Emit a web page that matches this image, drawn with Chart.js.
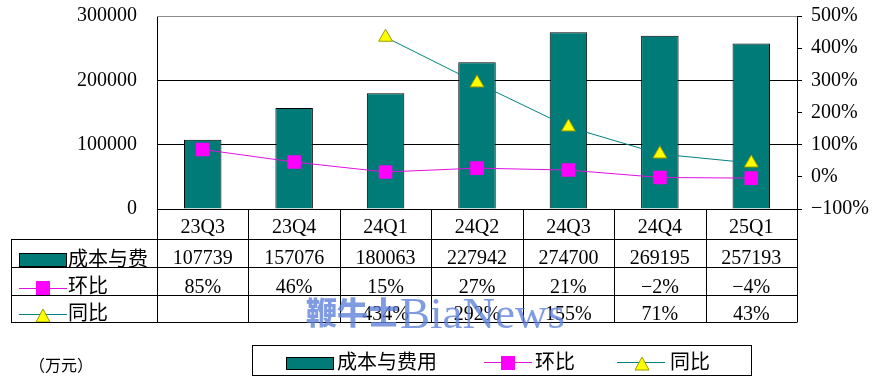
<!DOCTYPE html>
<html>
<head>
<meta charset="utf-8">
<script src="https://cdn.jsdelivr.net/npm/chart.js@4/dist/chart.umd.min.js"></script>
<style>
  html, body { margin: 0; padding: 0; background: #fff; }
  canvas { display: block; }
</style>
</head>
<body>
<canvas id="chart" width="876" height="392"></canvas>
<script>
// data
const categories = ['23Q3', '23Q4', '24Q1', '24Q2', '24Q3', '24Q4', '25Q1'];
const costs = [107739, 157076, 180063, 227942, 274700, 269195, 257193];
const qoq = [85, 46, 15, 27, 21, -2, -4];
const yoy = [null, null, 434, 292, 155, 71, 43];
const seriesNames = ['成本与费用', '环比', '同比'];
const rowNames = ['成本与费', '环比', '同比'];
const unitLabel = '（万元）';
const watermark = ['鞭牛士', 'BiaNews'];

const TEAL = '#007B77';
const MAGENTA = '#FF00FF';
const MAGENTA_LINE = '#E010E0';
const CYAN_LINE = '#008080';
const YELLOW = '#FFFF00';

const NUM_FONT = '20px "Liberation Serif", serif';
const CJK_FONT = '20px "Noto Sans CJK SC", sans-serif';

Chart.defaults.font.family = '"Liberation Serif", serif';
Chart.defaults.font.size = 20;
Chart.defaults.color = '#000';

function pct(v) {
  if (v === null || v === undefined) return '';
  return (v < 0 ? '\u2212' + (-v) : String(v)) + '%';
}

function px(v) { return Math.round(v) + 0.5; }

function line(ctx, x1, y1, x2, y2) {
  ctx.beginPath();
  ctx.moveTo(x1, y1);
  ctx.lineTo(x2, y2);
  ctx.stroke();
}

function square(ctx, cx, cy, s) {
  ctx.fillStyle = MAGENTA;
  ctx.fillRect(cx - s / 2, cy - s / 2, s, s);
}

function triangle(ctx, cx, apex, base, w) {
  ctx.beginPath();
  ctx.moveTo(cx, apex);
  ctx.lineTo(cx + w / 2, base);
  ctx.lineTo(cx - w / 2, base);
  ctx.closePath();
  ctx.fillStyle = YELLOW;
  ctx.fill();
  ctx.strokeStyle = '#9A9A00';
  ctx.lineWidth = 1;
  ctx.stroke();
}

// no extra room for half labels, the layout is fixed
function noPad(s) {
  s.paddingTop = 0;
  s.paddingBottom = 0;
  s.paddingLeft = 0;
  s.paddingRight = 0;
}

// data table under the axis, bottom legend and watermark
const tablePlugin = {
  id: 'dataTable',
  afterDraw(chart) {
    const { ctx, chartArea, scales } = chart;
    const xs = scales.x;
    const step = xs.getPixelForValue(1) - xs.getPixelForValue(0);
    const edges = categories.map((c, i) => xs.getPixelForValue(i) - step / 2);
    edges.push(xs.getPixelForValue(categories.length - 1) + step / 2);
    const top = chartArea.bottom;
    const rows = [239, 267, 295, 322];
    const L = 11, R = edges[edges.length - 1];

    ctx.save();

    // top border of the plot
    ctx.strokeStyle = '#8C8C8C';
    ctx.lineWidth = 1;
    line(ctx, chartArea.left, px(chartArea.top), chartArea.right, px(chartArea.top));

    // row keys
    ctx.fillStyle = TEAL;
    ctx.fillRect(19, 253, 48, 14);
    ctx.strokeStyle = '#000';
    ctx.strokeRect(19.5, 253.5, 47, 13);

    ctx.strokeStyle = MAGENTA_LINE;
    line(ctx, 19, 288.5, 67, 288.5);
    square(ctx, 43, 288, 14);

    ctx.strokeStyle = CYAN_LINE;
    line(ctx, 19, 314.5, 67, 314.5);
    triangle(ctx, 43, 309, 322, 14);

    // grid of the table
    ctx.strokeStyle = '#000';
    ctx.lineWidth = 1;
    edges.forEach(x => line(ctx, px(x), top, px(x), rows[3] + 0.5));
    line(ctx, px(L), rows[0], px(L), rows[3] + 0.5);
    rows.forEach(y => line(ctx, L, px(y), R, px(y)));

    // values
    ctx.fillStyle = '#000';
    ctx.font = NUM_FONT;
    ctx.textAlign = 'center';
    ctx.textBaseline = 'alphabetic';
    const rowVals = [costs.map(String), qoq.map(pct), yoy.map(pct)];
    const baselines = [264, 293, 320];
    rowVals.forEach((vals, r) => {
      vals.forEach((t, i) => {
        ctx.fillText(t, xs.getPixelForValue(i), baselines[r]);
      });
    });

    // row names
    ctx.font = CJK_FONT;
    ctx.textAlign = 'left';
    ctx.textBaseline = 'middle';
    const mids = [258.5, 285, 312];
    rowNames.forEach((n, r) => ctx.fillText(n, 68, mids[r]));

    // unit
    ctx.font = '16px "Noto Sans CJK SC", sans-serif';
    ctx.fillText(unitLabel, 29, 365);

    // legend box
    ctx.strokeStyle = '#000';
    ctx.strokeRect(252.5, 345.5, 499, 30);
    ctx.fillStyle = TEAL;
    ctx.fillRect(286, 357, 48, 13);
    ctx.strokeRect(286.5, 357.5, 47, 12);
    ctx.fillStyle = '#000';
    ctx.font = CJK_FONT;
    ctx.fillText(seriesNames[0], 337, 361.5);

    ctx.strokeStyle = MAGENTA_LINE;
    line(ctx, 484, 362.5, 532, 362.5);
    square(ctx, 508, 363, 14);
    ctx.fillStyle = '#000';
    ctx.fillText(seriesNames[1], 535, 361.5);

    ctx.strokeStyle = CYAN_LINE;
    line(ctx, 617, 362.5, 665, 362.5);
    triangle(ctx, 642, 357, 370, 14);
    ctx.fillStyle = '#000';
    ctx.font = CJK_FONT;
    ctx.fillText(seriesNames[2], 670, 361.5);

    // watermark
    ctx.fillStyle = 'rgba(95, 130, 218, 0.8)';
    ctx.font = '900 31px "Noto Sans CJK SC", sans-serif';
    ctx.textBaseline = 'middle';
    ctx.fillText(watermark[0], 306, 312);
    ctx.font = '45px "Liberation Serif", serif';
    ctx.textBaseline = 'alphabetic';
    ctx.fillText(watermark[1], 400, 328);

    ctx.restore();
  }
};

new Chart(document.getElementById('chart'), {
  type: 'bar',
  data: {
    labels: categories,
    datasets: [
      {
        label: seriesNames[0],
        data: costs,
        yAxisID: 'y',
        backgroundColor: TEAL,
        borderColor: '#000',
        borderWidth: 1,
        barPercentage: 0.41,
        categoryPercentage: 1,
        order: 3
      },
      {
        type: 'line',
        label: seriesNames[1],
        data: qoq,
        yAxisID: 'y1',
        borderColor: MAGENTA_LINE,
        borderWidth: 1,
        pointStyle: 'rect',
        pointRadius: 9.6,
        pointBackgroundColor: MAGENTA,
        pointBorderColor: MAGENTA,
        pointBorderWidth: 0,
        tension: 0,
        fill: false,
        order: 2
      },
      {
        type: 'line',
        label: seriesNames[2],
        data: yoy,
        yAxisID: 'y1',
        borderColor: CYAN_LINE,
        borderWidth: 1,
        pointStyle: 'triangle',
        pointRadius: 8,
        pointBackgroundColor: YELLOW,
        pointBorderColor: '#9A9A00',
        pointBorderWidth: 1,
        spanGaps: false,
        tension: 0,
        fill: false,
        order: 1
      }
    ]
  },
  options: {
    responsive: false,
    animation: false,
    devicePixelRatio: 1,
    layout: { padding: { top: 16, left: 0, right: 0, bottom: 0 } },
    plugins: {
      legend: { display: false },
      tooltip: { enabled: false }
    },
    scales: {
      x: {
        grid: { display: false, drawTicks: false },
        border: { display: true, color: '#000', width: 1 },
        ticks: { font: { size: 20 }, padding: 7, maxRotation: 0 },
        afterFit: s => { s.height = 183; noPad(s); }
      },
      y: {
        position: 'left',
        min: 0,
        max: 300000,
        ticks: { stepSize: 100000, padding: 20, font: { size: 20 }, callback: v => String(v) },
        grid: {
          drawTicks: false,
          color: c => (c.tick && c.tick.value === 300000 ? '#8C8C8C' : '#000'),
          lineWidth: 1
        },
        border: { display: true, color: '#000', width: 1 },
        afterFit: s => { s.width = 157; noPad(s); }
      },
      y1: {
        position: 'right',
        min: -100,
        max: 500,
        ticks: { stepSize: 100, padding: 9, font: { size: 20 }, callback: v => pct(v) },
        grid: { drawOnChartArea: false, drawTicks: true, tickLength: 5, color: '#000' },
        border: { display: true, color: '#000', width: 1 },
        afterFit: s => { s.width = 79; noPad(s); }
      }
    }
  },
  plugins: [tablePlugin]
});
</script>
</body>
</html>
